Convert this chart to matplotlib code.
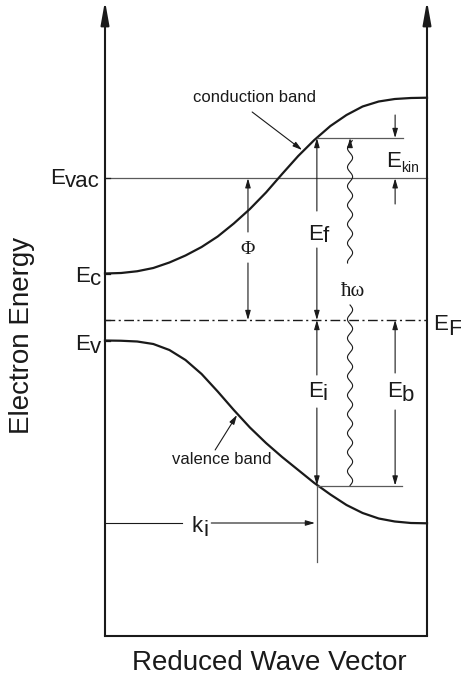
import numpy as np
import matplotlib.pyplot as plt

plt.rcParams['font.family'] = ['Liberation Sans', 'DejaVu Sans']

# band curves, reduced wave vector (0..1) vs energy relative to E_F
k_band = [0.0, 0.05, 0.10, 0.15, 0.20, 0.25, 0.30, 0.35, 0.40, 0.45, 0.50,
          0.55, 0.60, 0.65, 0.70, 0.75, 0.80, 0.85, 0.90, 0.95, 1.0]
e_cb = [0.93, 0.94, 0.975, 1.04, 1.15, 1.29, 1.46, 1.67, 1.93, 2.22, 2.55,
        2.92, 3.28, 3.60, 3.88, 4.10, 4.27, 4.37, 4.42, 4.44, 4.446]
e_vb = [-0.41, -0.415, -0.43, -0.48, -0.60, -0.80, -1.08, -1.43, -1.80, -2.15, -2.46,
        -2.74, -3.00, -3.26, -3.49, -3.70, -3.86, -3.97, -4.03, -4.06, -4.066]

E_VAC = 2.834
E_C = 0.93
E_V = -0.41
E_FERMI = 0.0
E_FINAL = 3.64
E_INIT = -3.31
K_I = 0.658

ink = '#1a1a1a'
grey = '#5a5a5a'

fig = plt.figure(figsize=(4.61, 6.82), dpi=100)
ax = fig.add_axes([0, 0, 1, 1])
ax.set_xlim(-105 / 322, 356 / 322)
ax.set_ylim(-362 / 50, 320 / 50)
ax.axis('off')
renderer = fig.canvas.get_renderer()

bottom, top = -6.32, 6.38


def arrow(x0, y0, x1, y1, lw=0.8, color=ink, head='-|>,head_length=0.55,head_width=0.16'):
    ax.annotate('', xy=(x1, y1), xytext=(x0, y0),
                arrowprops=dict(arrowstyle=head, lw=lw, color=color,
                                shrinkA=0, shrinkB=0, mutation_scale=10))


def e_label(x, y, main, sub, size=16, subsize=None, drop=3):
    t = ax.text(x, y, main, fontsize=size, ha='left', va='baseline', color=ink)
    bb = t.get_window_extent(renderer)
    x1 = ax.transData.inverted().transform((bb.x1, 0))[0]
    ax.annotate(sub, (x1, y), xytext=(0, -drop), textcoords='offset pixels',
                fontsize=subsize or size, ha='left', va='baseline', color=ink)


# frame with arrows on both energy axes
big = '-|>,head_length=1.4,head_width=0.25'
arrow(0, bottom, 0, top, lw=1.5, head=big)
arrow(1, bottom, 1, top, lw=1.5, head=big)
ax.plot([0, 1], [bottom, bottom], color=ink, lw=1.5, solid_capstyle='projecting')

# levels
ax.plot([0, 1], [E_VAC, E_VAC], color=grey, lw=0.9)
ax.plot([0, 1], [E_FERMI, E_FERMI], color=ink, lw=1.0, linestyle=(0, (7, 2.5, 1.5, 2.5)))
for lev in [E_VAC, E_C, E_FERMI, E_V]:
    ax.plot([0, 0.016], [lev, lev], color=ink, lw=0.9)

# bands
ax.plot(k_band, e_cb, color=ink, lw=1.6)
ax.plot(k_band, e_vb, color=ink, lw=1.6)

# initial / final state markers
ax.plot([K_I, 0.925], [E_FINAL, E_FINAL], color=grey, lw=0.9)
ax.plot([K_I, 0.922], [E_INIT, E_INIT], color=grey, lw=0.9)
ax.plot([K_I, K_I], [E_INIT, -4.84], color=grey, lw=0.9)

# work function
arrow(0.444, 1.76, 0.444, E_VAC)
arrow(0.444, 1.14, 0.444, E_FERMI)
ax.text(0.444, 1.4, 'Φ', fontsize=14, family='Liberation Serif', ha='center', va='center', color=ink)

# E_f and E_i
arrow(K_I, 2.18, K_I, E_FINAL)
arrow(K_I, 1.44, K_I, E_FERMI)
arrow(K_I, -1.1, K_I, E_FERMI)
arrow(K_I, -1.76, K_I, E_INIT)

# binding energy
kb = 0.901
arrow(kb, -1.06, kb, E_FERMI)
arrow(kb, -1.8, kb, E_INIT)

# kinetic energy
arrow(kb, 4.1, kb, E_FINAL)
arrow(kb, 2.32, kb, E_VAC)

# photon
kw = 0.761
for e0, e1 in [(1.14, E_FINAL - 0.05), (E_INIT, 0.3)]:
    ee = np.linspace(e0, e1, 200)
    ax.plot(kw + 0.008 * np.sin(2 * np.pi * (ee - E_INIT) / 0.38), ee, color=ink, lw=0.8)
arrow(kw, E_FINAL - 0.15, kw, E_FINAL)
ax.text(0.77, 0.58, 'ħω', fontsize=15, family='Liberation Serif', ha='center', va='center', color=ink)

# k_i
ax.plot([0, 0.239], [-4.06, -4.06], color=ink, lw=0.8)
arrow(0.33, -4.06, K_I - 0.006, -4.06)

# band annotations
ax.text(0.463, 4.45, 'conduction band', fontsize=12, ha='center', va='center', color=ink)
arrow(0.457, 4.16, 0.612, 3.40)
ax.text(0.363, -2.8, 'valence band', fontsize=12, ha='center', va='center', color=ink)
arrow(0.342, -2.6, 0.41, -1.9)

# level labels
e_label(-0.171, 2.72, 'E', 'vac')
e_label(-0.093, 0.76, 'E', 'c')
e_label(-0.093, -0.6, 'E', 'v')
e_label(1.02, -0.2, 'E', 'F', drop=5)
e_label(0.630, 1.6, 'E', 'f', drop=2)
e_label(0.630, -1.54, 'E', 'i', drop=3)
e_label(0.876, -1.54, 'E', 'b', drop=4)
e_label(0.873, 3.06, 'E', 'kin', subsize=10, drop=5)
e_label(0.270, -4.24, 'k', 'i', drop=4)

ax.text(-0.258, -0.3, 'Electron Energy', fontsize=20, rotation=90, ha='center', va='center', color=ink)
ax.text(0.509, -6.86, 'Reduced Wave Vector', fontsize=20, ha='center', va='center', color=ink)

fig.savefig('out.png', dpi=100)
